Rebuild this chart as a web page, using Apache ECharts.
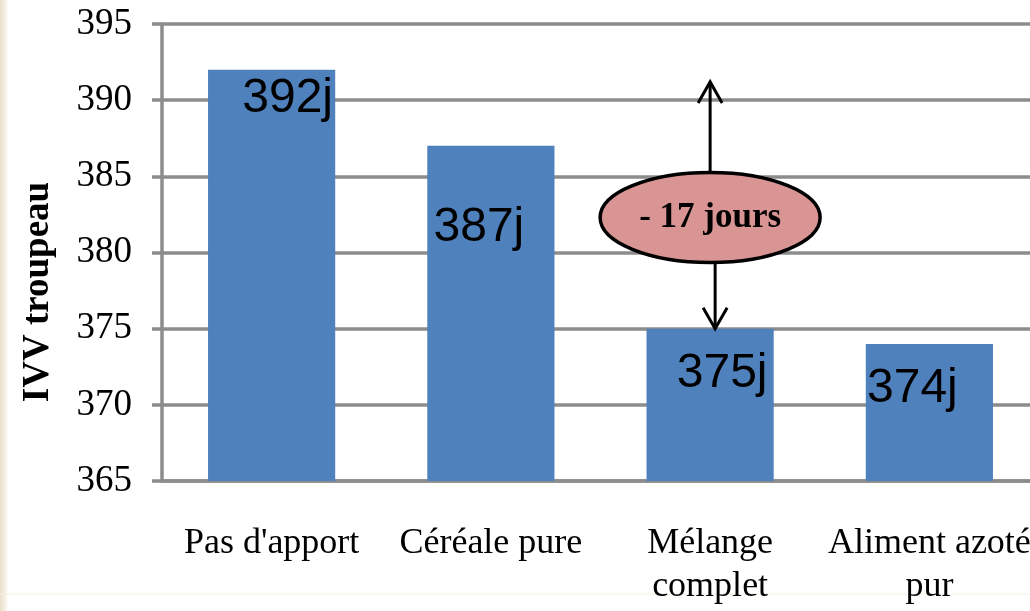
<!DOCTYPE html>
<html>
<head>
<meta charset="utf-8">
<title>IVV troupeau</title>
<script src="https://cdn.jsdelivr.net/npm/echarts@6.0.0/dist/echarts.min.js"></script>
<style>
  html, body { margin: 0; padding: 0; background: #fff; }
  #chart { width: 1030px; height: 611px; }
</style>
</head>
<body>
<div id="chart"></div>
<script>
// data
const categories = ["Pas d'apport", 'Céréale pure', 'Mélange\ncomplet', 'Aliment azoté\npur']
const ivvValues = [392, 387, 375, 374]
const yTicks = [365, 370, 375, 380, 385, 390, 395]
const gapText = '- 17 jours'

// where each value label sits relative to the bar top (px)
const labelShift = [[16, 5], [-12, 58], [12, 21], [-17, 21]]

const gridColor = '#8c8c8c'
const serif = '"Liberation Serif", "Times New Roman", serif'

const chart = echarts.init(document.getElementById('chart'))

chart.setOption({
  backgroundColor: '#fff',
  animation: false,
  grid: {
    left: 162,
    right: -9,
    top: 24,
    bottom: 130,
    outerBoundsMode: 'none'
  },
  xAxis: {
    type: 'category',
    data: categories,
    axisLine: { lineStyle: { color: gridColor, width: 3.5 } },
    axisTick: { length: 10, lineStyle: { color: gridColor, width: 3.5 } },
    axisLabel: {
      interval: 0,
      margin: 41,
      color: '#000',
      fontFamily: serif,
      fontSize: 36,
      lineHeight: 43
    }
  },
  yAxis: {
    type: 'value',
    min: yTicks[0],
    max: yTicks[yTicks.length - 1],
    interval: yTicks[1] - yTicks[0],
    axisLine: { show: true, lineStyle: { color: gridColor, width: 3.5 } },
    axisTick: { show: true, length: 10, lineStyle: { color: gridColor, width: 3.5 } },
    splitLine: { lineStyle: { color: gridColor, width: 3.5 } },
    axisLabel: {
      margin: 30,
      color: '#000',
      fontFamily: serif,
      fontSize: 37
    }
  },
  series: [{
    type: 'bar',
    barWidth: '58%',
    itemStyle: { color: '#4f81bd' },
    label: {
      show: true,
      position: 'insideTop',
      distance: 0,
      formatter: '{c}j',
      color: '#000',
      fontFamily: '"Liberation Sans", Arial, sans-serif',
      fontSize: 48
    },
    data: ivvValues.map((v, i) => ({
      value: v,
      label: { offset: labelShift[i] }
    }))
  }]
})

// annotation: ellipse with arrows over "Mélange complet"
const px = (cat, val) => chart.convertToPixel({ xAxisIndex: 0, yAxisIndex: 0 }, [cat, val])
const mid = px(2, 382.3)
const rx = 110, ry = 45
const upTip = px(2, 391.2)
const downTip = px(2, ivvValues[2])
const head = (x, y, dir) => [[x - 12, y + dir * 21], [x, y], [x + 12, y + dir * 21]]
const arrowStyle = { stroke: '#000', lineWidth: 3, fill: null }

chart.setOption({
  graphic: [
    // beige strip at the left edge
    {
      type: 'rect',
      shape: { x: 0, y: 0, width: 7, height: 611 },
      style: {
        fill: new echarts.graphic.LinearGradient(0, 0, 1, 0, [
          { offset: 0, color: '#eadfcc' },
          { offset: 1, color: '#fbf5ea' }
        ])
      },
      z: -1
    },
    {
      type: 'line',
      shape: { x1: 0, y1: 594, x2: 1030, y2: 594 },
      style: { stroke: '#f7f0e2', lineWidth: 1 },
      z: -1
    },
    {
      type: 'text',
      x: 38,
      y: 292,
      rotation: Math.PI / 2,
      style: {
        text: 'IVV troupeau',
        font: 'bold 37px ' + serif,
        fill: '#000',
        align: 'center',
        verticalAlign: 'middle',
        textAlign: 'center',
        textVerticalAlign: 'middle'
      }
    },
    {
      type: 'polyline',
      shape: { points: [[mid[0], mid[1] - ry], [upTip[0], upTip[1]]] },
      style: arrowStyle,
      z: 10
    },
    {
      type: 'polyline',
      shape: { points: head(upTip[0], upTip[1], 1) },
      style: arrowStyle,
      z: 10
    },
    {
      type: 'polyline',
      shape: { points: [[mid[0] + 5, mid[1] + ry], [downTip[0] + 5, downTip[1]]] },
      style: arrowStyle,
      z: 10
    },
    {
      type: 'polyline',
      shape: { points: head(downTip[0] + 5, downTip[1], -1) },
      style: arrowStyle,
      z: 10
    },
    {
      type: 'ellipse',
      shape: { cx: mid[0], cy: mid[1], rx: rx, ry: ry },
      style: { fill: '#d99594', stroke: '#000', lineWidth: 3.5 },
      z: 11
    },
    {
      type: 'text',
      x: mid[0],
      y: mid[1],
      style: {
        text: gapText,
        font: 'bold 35px ' + serif,
        fill: '#000',
        align: 'center',
        verticalAlign: 'middle',
        textAlign: 'center',
        textVerticalAlign: 'middle'
      },
      z: 12
    }
  ]
})
</script>
</body>
</html>
